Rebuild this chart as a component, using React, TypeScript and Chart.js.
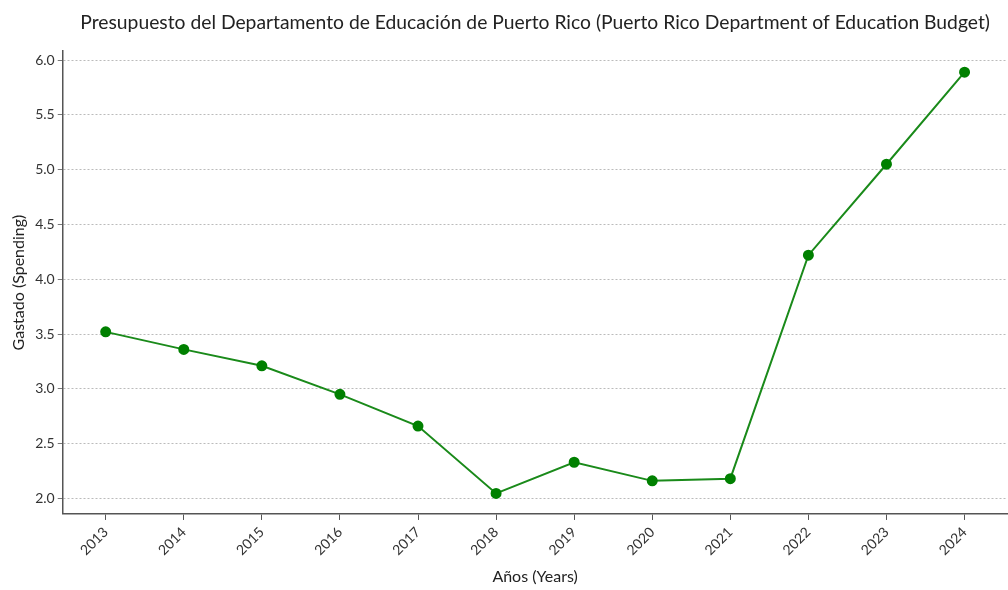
import React, { useEffect, useRef } from "react";
import { Chart, registerables } from "chart.js";

Chart.register(...registerables);

const years: number[] = [2013, 2014, 2015, 2016, 2017, 2018, 2019, 2020, 2021, 2022, 2023, 2024];
const spending: number[] = [3.52, 3.36, 3.21, 2.95, 2.66, 2.045, 2.33, 2.16, 2.18, 4.22, 5.05, 5.89];

const titleText = "Presupuesto del Departamento de Educación de Puerto Rico (Puerto Rico Department of Education Budget)";
const xTitle = "Años (Years)";
const yTitle = "Gastado (Spending)";

const FONT = "Lato, 'Noto Sans', sans-serif";

export default function App() {
  const ref = useRef<HTMLCanvasElement | null>(null);
  useEffect(() => {
    document.body.style.margin = "0";
    if (!ref.current) return;
    const chart = new Chart(ref.current, {
      type: "line",
      data: {
        datasets: [
          {
            data: years.map((y, i) => ({ x: y, y: spending[i] })),
            borderColor: "#1a8a1a",
            backgroundColor: "#008000",
            pointBackgroundColor: "#008000",
            pointBorderColor: "#008000",
            borderWidth: 2,
            pointRadius: 4.5,
            tension: 0,
          },
        ],
      },
      options: {
        animation: false,
        responsive: false,
        devicePixelRatio: 1,
        layout: { padding: { left: 9, right: 0, top: 0, bottom: 4 } },
        plugins: {
          legend: { display: false },
          tooltip: { enabled: false },
          title: {
            display: true,
            text: titleText,
            fullSize: false,
            color: "#222",
            font: { family: FONT, size: 19.3, weight: "normal" },
            padding: { top: 11, bottom: 17 },
          },
        },
        scales: {
          x: {
            type: "linear",
            min: 2012.45,
            max: 2024.55,
            afterBuildTicks: (axis: any) => {
              axis.ticks = years.map((v) => ({ value: v }));
            },
            ticks: {
              minRotation: 45,
              maxRotation: 45,
              color: "#333",
              font: { family: FONT, size: 14 },
              padding: 4,
              callback: (v: any) => String(v),
            },
            grid: {
              drawOnChartArea: false,
              drawTicks: true,
              tickLength: 6,
              tickColor: "#555",
              tickWidth: 1,
            },
            border: { display: true, color: "#555", width: 1.5 },
            title: {
              display: true,
              text: xTitle,
              color: "#222",
              font: { family: FONT, size: 16 },
              padding: { top: 4, bottom: 0 },
            },
          },
          y: {
            type: "linear",
            min: 1.858,
            max: 6.082,
            afterBuildTicks: (axis: any) => {
              const t = [];
              for (let i = 0; i <= 8; i++) t.push({ value: 2 + i * 0.5 });
              axis.ticks = t;
            },
            ticks: {
              color: "#333",
              font: { family: FONT, size: 14 },
              padding: 3,
              callback: (v: any) => Number(v).toFixed(1),
            },
            grid: {
              drawOnChartArea: true,
              drawTicks: true,
              tickLength: 5,
              color: "#aaaaaa",
              tickColor: "#555",
              lineWidth: 0.8,
            },
            border: { display: true, color: "#555", width: 1.5, dash: [2, 2] },
            title: {
              display: true,
              text: yTitle,
              color: "#222",
              font: { family: FONT, size: 16 },
              padding: { top: 0, bottom: 4 },
            },
          },
        },
      },
    });
    return () => chart.destroy();
  }, []);
  return (
    <div style={{ width: 1008, height: 590, overflow: "hidden" }}>
      <canvas ref={ref} width={1014} height={590} style={{ display: "block" }} />
    </div>
  );
}
